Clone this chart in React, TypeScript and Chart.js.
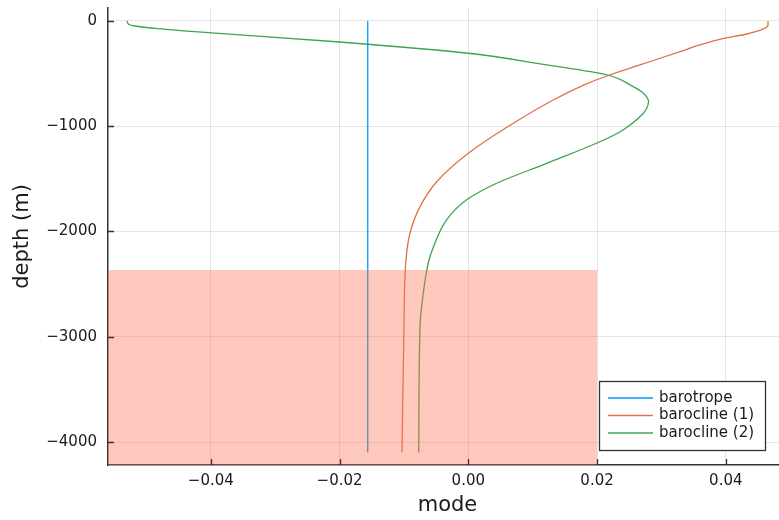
import { useEffect, useRef } from 'react';
import { Chart, registerables } from 'chart.js';

Chart.register(...registerables);

// Vertical mode profiles: mode amplitude against depth (m)
const BAROTROPE_DEPTH = [0, -4100];
const BAROTROPE_MODE = [-0.01562, -0.01562];

const BAROCLINE1_DEPTH = [0, -38, -76, -124, -164, -228, -292, -418, -523, -608, -751, -972, -1257, -1527, -1764, -2017, -2271, -2936, -4100];
const BAROCLINE1_MODE = [0.04656, 0.04656, 0.04583, 0.04325, 0.03988, 0.03599, 0.03288, 0.02667, 0.0215, 0.018, 0.0132, 0.00699, 0.0, -0.00491, -0.0075, -0.00906, -0.00968, -0.01, -0.0103];

const BAROCLINE2_DEPTH = [0, -31, -48, -73, -111, -200, -307, -418, -513, -624, -687, -767, -830, -877, -1052, -1162, -1352, -1542, -1701, -1891, -2144, -2271, -2587, -2904, -4100];
const BAROCLINE2_MODE = [-0.053, -0.05276, -0.0518, -0.0482, -0.0404, -0.02, 0.0, 0.0122, 0.0215, 0.0256, 0.0272, 0.028, 0.0277, 0.0272, 0.0236, 0.0199, 0.0122, 0.0044, -0.0003, -0.0034, -0.0054, -0.0061, -0.007, -0.0075, -0.0077];

// Shaded deep layer, as a closed rectangle (corners in mode / depth units)
const SHADE_MODE = [-0.07, 0.02, 0.02, -0.07];
const SHADE_DEPTH = [-2366, -2366, -4500, -4500];

const SERIES_LABELS = ['barotrope', 'barocline (1)', 'barocline (2)'];
const SERIES_COLORS = ['#009AFA', '#E36F47', '#3EA44E'];

const X_TICKS = [-0.04, -0.02, 0, 0.02, 0.04];
const X_TICK_LABELS = ['\u22120.04', '\u22120.02', '0.00', '0.02', '0.04'];
const Y_TICKS = [0, -1000, -2000, -3000, -4000];
const Y_TICK_LABELS = ['0', '\u22121000', '\u22122000', '\u22123000', '\u22124000'];

const X_MIN = -0.05597;
const X_MAX = 0.04951;
const Y_MIN = -4218;
const Y_MAX = 123;

const FONT = '"DejaVu Sans", sans-serif';
const AXIS_COLOR = '#333333';
const TEXT_COLOR = '#1a1a1a';

const toPoints = (xs: number[], ys: number[]) => xs.map((x, i) => ({ x, y: ys[i] }));

const innerTicks = {
  id: 'innerTicks',
  afterDatasetsDraw(chart: any) {
    const { ctx, chartArea, scales } = chart;
    ctx.save();
    ctx.strokeStyle = AXIS_COLOR;
    ctx.lineWidth = 1.3;
    ctx.beginPath();
    for (const v of X_TICKS) {
      const px = Math.round(scales.x.getPixelForValue(v)) + 0.5;
      ctx.moveTo(px, chartArea.bottom);
      ctx.lineTo(px, chartArea.bottom - 6);
    }
    for (const v of Y_TICKS) {
      const py = Math.round(scales.y.getPixelForValue(v)) + 0.5;
      ctx.moveTo(chartArea.left, py);
      ctx.lineTo(chartArea.left + 6, py);
    }
    ctx.stroke();
    ctx.restore();
  },
};

const boxLegend = {
  id: 'boxLegend',
  afterDraw(chart: any) {
    const { ctx, chartArea } = chart;
    const w = 166;
    const h = 69;
    const right = chartArea.right - 22;
    const bottom = chartArea.bottom - 15;
    const left = right - w;
    const top = bottom - h;
    ctx.save();
    ctx.fillStyle = '#ffffff';
    ctx.fillRect(left, top, w, h);
    ctx.strokeStyle = AXIS_COLOR;
    ctx.lineWidth = 1.3;
    ctx.strokeRect(left + 0.5, top + 0.5, w, h);
    ctx.font = `15px ${FONT}`;
    ctx.textBaseline = 'middle';
    ctx.textAlign = 'left';
    SERIES_LABELS.forEach((label, i) => {
      const yy = top + 17 + i * 17.5;
      ctx.strokeStyle = SERIES_COLORS[i];
      ctx.lineWidth = 1.3;
      ctx.beginPath();
      ctx.moveTo(left + 9, yy);
      ctx.lineTo(left + 54, yy);
      ctx.stroke();
      ctx.fillStyle = TEXT_COLOR;
      ctx.fillText(label, left + 60, yy);
    });
    ctx.restore();
  },
};

export default function App() {
  const canvasRef = useRef<HTMLCanvasElement | null>(null);

  useEffect(() => {
    if (!canvasRef.current) return;
    const lineSet = (i: number, xs: number[], ys: number[]) => ({
      label: SERIES_LABELS[i],
      data: toPoints(xs, ys),
      borderColor: SERIES_COLORS[i],
      backgroundColor: SERIES_COLORS[i],
      borderWidth: 1.3,
      pointRadius: 0,
      cubicInterpolationMode: 'monotone',
      fill: false,
      order: 1,
    });

    const chart = new Chart(canvasRef.current, {
      type: 'line',
      data: {
        datasets: [
          lineSet(0, BAROTROPE_MODE, BAROTROPE_DEPTH),
          lineSet(1, BAROCLINE1_MODE, BAROCLINE1_DEPTH),
          lineSet(2, BAROCLINE2_MODE, BAROCLINE2_DEPTH),
          {
            label: 'deep layer',
            data: toPoints(SHADE_MODE, SHADE_DEPTH),
            borderWidth: 0,
            borderColor: 'rgba(0,0,0,0)',
            backgroundColor: 'rgba(255,110,80,0.38)',
            pointRadius: 0,
            fill: 'shape',
            tension: 0,
            cubicInterpolationMode: 'default',
            order: 0,
          },
        ],
      },
      options: {
        indexAxis: 'y',
        responsive: false,
        animation: false,
        devicePixelRatio: 1,
        layout: { padding: { top: 8, right: 0, bottom: 0, left: 0 } },
        plugins: {
          legend: { display: false },
          tooltip: { enabled: false },
        },
        scales: {
          x: {
            type: 'linear',
            position: 'bottom',
            min: X_MIN,
            max: X_MAX,
            afterBuildTicks: (scale: any) => {
              scale.ticks = X_TICKS.map((value) => ({ value }));
            },
            afterFit: (scale: any) => {
              scale.height = 55;
              scale.paddingLeft = 0;
              scale.paddingRight = 0;
            },
            ticks: {
              autoSkip: false,
              maxRotation: 0,
              padding: 7,
              color: TEXT_COLOR,
              font: { family: FONT, size: 15 },
              callback: (_v: any, i: number) => X_TICK_LABELS[i],
            },
            grid: { color: 'rgba(0,0,0,0.1)', lineWidth: 1, drawTicks: false },
            border: { display: true, color: AXIS_COLOR, width: 1.5 },
            title: {
              display: true,
              text: 'mode',
              color: TEXT_COLOR,
              font: { family: FONT, size: 21 },
              padding: { top: 0, bottom: 2 },
            },
          },
          y: {
            type: 'linear',
            position: 'left',
            min: Y_MIN,
            max: Y_MAX,
            afterBuildTicks: (scale: any) => {
              scale.ticks = Y_TICKS.map((value) => ({ value }));
            },
            afterFit: (scale: any) => {
              scale.width = 108;
              scale.paddingTop = 0;
              scale.paddingBottom = 0;
            },
            ticks: {
              autoSkip: false,
              padding: 11,
              color: TEXT_COLOR,
              font: { family: FONT, size: 15 },
              callback: (_v: any, i: number) => Y_TICK_LABELS[i],
            },
            grid: { color: 'rgba(0,0,0,0.1)', lineWidth: 1, drawTicks: false },
            border: { display: true, color: AXIS_COLOR, width: 1.5 },
            title: {
              display: true,
              text: 'depth (m)',
              color: TEXT_COLOR,
              font: { family: FONT, size: 21 },
              padding: { top: 10, bottom: 0 },
            },
          },
        },
      },
      plugins: [innerTicks, boxLegend],
    } as any);

    return () => chart.destroy();
  }, []);

  return (
    <div
      style={{
        position: 'fixed',
        left: 0,
        top: 0,
        width: 779,
        height: 520,
        overflow: 'hidden',
        background: '#ffffff',
      }}
    >
      <canvas ref={canvasRef} width={787} height={520} style={{ display: 'block' }} />
    </div>
  );
}
